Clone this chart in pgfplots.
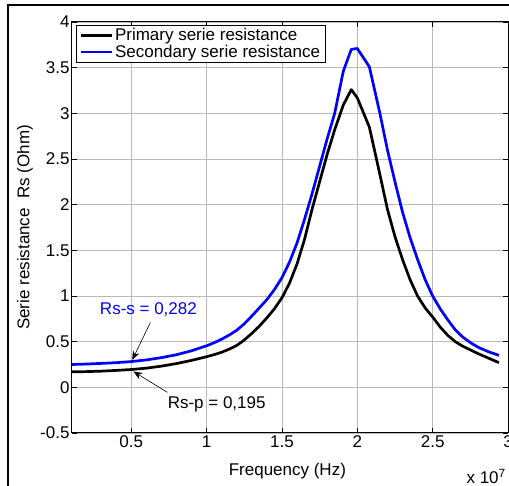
\documentclass[border=0pt]{standalone}
\usepackage{fontspec}
\setmainfont{Liberation Sans}
\usepackage{pgfplots}
\pgfplotsset{compat=1.18}
\usetikzlibrary{arrows.meta}
\definecolor{mblue}{RGB}{0,0,255}
\pgfplotstableread{
x y
0.107 0.170
0.2 0.172
0.3 0.177
0.4 0.185
0.5 0.195
0.6 0.21
0.7 0.232
0.8 0.26
0.9 0.295
1.0 0.335
1.05 0.358
1.1 0.384
1.15 0.418
1.2 0.458
1.25 0.518
1.3 0.59
1.35 0.67
1.4 0.76
1.45 0.86
1.5 0.98
1.55 1.14
1.6 1.35
1.65 1.62
1.7 1.95
1.75 2.25
1.8 2.55
1.85 2.82
1.907 3.09
1.96 3.26
2.0 3.17
2.08 2.85
2.15 2.33
2.2 1.95
2.25 1.65
2.3 1.40
2.35 1.18
2.4 1.00
2.45 0.87
2.5 0.77
2.55 0.66
2.6 0.57
2.65 0.50
2.7 0.45
2.8 0.37
2.87 0.32
2.94 0.27
}\primary
\pgfplotstableread{
x y
0.107 0.25
0.2 0.255
0.3 0.262
0.4 0.27
0.5 0.282
0.6 0.30
0.7 0.325
0.8 0.357
0.9 0.40
1.0 0.455
1.05 0.488
1.1 0.527
1.15 0.572
1.2 0.625
1.25 0.695
1.3 0.78
1.35 0.87
1.4 0.96
1.45 1.07
1.5 1.20
1.55 1.37
1.6 1.58
1.65 1.84
1.7 2.12
1.75 2.42
1.8 2.72
1.85 3.00
1.907 3.46
1.96 3.70
2.0 3.71
2.08 3.51
2.15 3.00
2.2 2.60
2.25 2.25
2.3 1.92
2.35 1.64
2.4 1.40
2.45 1.18
2.5 1.00
2.55 0.86
2.6 0.74
2.65 0.63
2.7 0.55
2.75 0.49
2.8 0.44
2.87 0.39
2.94 0.35
}\secondary
\begin{document}
\begin{tikzpicture}
\useasboundingbox (-72pt,-53pt) rectangle (437pt,433pt);
\draw[line width=1.2pt] (-64pt,-70pt) -- (-64pt,428pt) -- (450pt,428pt);
\begin{axis}[
  at={(0pt,0pt)}, anchor=south west,
  scale only axis, width=436pt, height=411pt,
  xmin=0.107, xmax=3, ymin=-0.5, ymax=4,
  xtick={0.5,1,1.5,2,2.5,3},
  ytick={-0.5,0,0.5,1,1.5,2,2.5,3,3.5,4},
  xticklabels={0.5,1,1.5,2,2.5,3},
  yticklabels={-0.5,0,0.5,1,1.5,2,2.5,3,3.5,4},
  tick align=inside, major tick length=5pt,
  tick style={black, line width=0.6pt},
  axis line style={line width=1pt},
  grid=major,
  major grid style={gray!55, line width=0.7pt},
  font=\fontsize{17}{20}\selectfont,
  tick label style={font=\fontsize{17}{20}\selectfont},
  xticklabel style={yshift=1pt},
  yticklabel style={xshift=1pt},
  xlabel={Frequency (Hz)},
  ylabel={Serie resistance \ Rs (Ohm)},
  xlabel style={at={(axis description cs:0.494,-0.092)}, anchor=center},
  ylabel style={at={(axis description cs:-0.108,0.5)}, anchor=center},
  legend cell align=left,
  legend style={at={(axis description cs:0.009,0.993)}, anchor=north west,
    draw=black, line width=0.8pt, fill=white,
    font=\fontsize{17}{20}\selectfont,
    row sep=-1pt, inner xsep=3pt, inner ysep=1pt},
  legend image code/.code={\draw[#1] (0pt,0pt) -- (31pt,0pt);},
  clip=false,
]
\addplot[black, line width=2.7pt, line join=round] table[x=x,y=y] {\primary};
\addlegendentry{Primary serie resistance}
\addplot[mblue, line width=2.7pt, line join=round] table[x=x,y=y] {\secondary};
\addlegendentry{Secondary serie resistance}
\node[mblue, font=\fontsize{17}{20}\selectfont] at (axis cs:0.614,0.85) {Rs-s = 0,282};
\draw[-{Stealth[length=9pt,width=7pt]}, line width=0.6pt] (axis cs:0.627,0.71) -- (axis cs:0.507,0.30);
\node[black, font=\fontsize{17}{20}\selectfont] at (axis cs:1.067,-0.185) {Rs-p = 0,195};
\draw[-{Stealth[length=9pt,width=7pt]}, line width=0.6pt] (axis cs:0.74,-0.055) -- (axis cs:0.514,0.174);
\node[font=\fontsize{17}{20}\selectfont] at (axis description cs:0.95,-0.105) {x 10\textsuperscript{7}};
\end{axis}
\end{tikzpicture}
\end{document}
